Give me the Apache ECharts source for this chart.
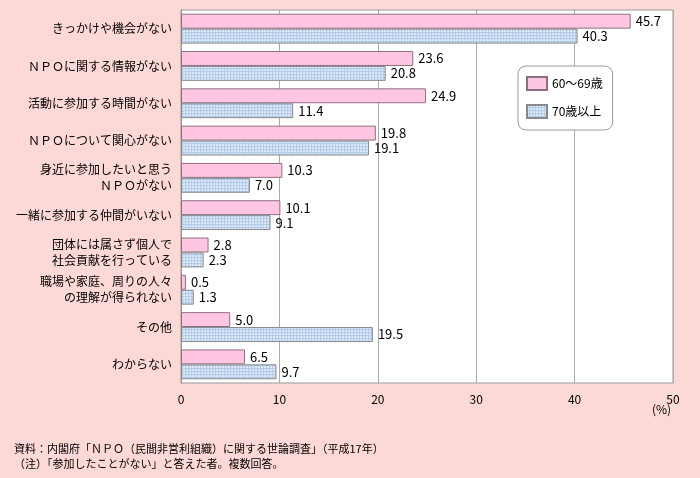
<!DOCTYPE html>
<html><head><meta charset="utf-8">
<script src="https://cdn.jsdelivr.net/npm/echarts@6/dist/echarts.min.js"></script>
<style>html,body{margin:0;padding:0;background:#FCD9D6;}#c{width:700px;height:478px;}</style>
</head><body><div id="c"></div>
<script>
var categories = ["きっかけや機会がない","ＮＰＯに関する情報がない","活動に参加する時間がない","ＮＰＯについて関心がない","身近に参加したいと思う\nＮＰＯがない","一緒に参加する仲間がいない","団体には属さず個人で\n社会貢献を行っている","職場や家庭、周りの人々\nの理解が得られない","その他","わからない"];
var seriesNames = ["60～69歳","70歳以上"];
var values60s = [45.7,23.6,24.9,19.8,10.3,10.1,2.8,0.5,5.0,6.5];
var values70s = [40.3,20.8,11.4,19.1,7.0,9.1,2.3,1.3,19.5,9.7];
var xTicks = [0,10,20,30,40,50];

var pc = document.createElement('canvas');
pc.width = 3; pc.height = 3;
var g = pc.getContext('2d');
g.fillStyle = '#B3CCEA'; g.fillRect(0,0,3,3);
g.fillStyle = '#E2ECF8'; g.fillRect(0,0,2,2);
g.fillStyle = '#CCDDF1'; g.fillRect(0,0,1,1);

var font = '"Noto Sans CJK JP", sans-serif';
var chart = echarts.init(document.getElementById('c'));
chart.setOption({
  backgroundColor: '#FCD9D6',
  animation: false,
  textStyle: {fontFamily: font},
  grid: {left: 181, right: 27, top: 10, bottom: 95, show: true, backgroundColor: '#fff', borderColor: '#999', borderWidth: 1},
  legend: {
    orient: 'vertical', left: 518, top: 66, width: 94,
    padding: [10, 10, 11, 8], itemGap: 13, itemWidth: 20, itemHeight: 13,
    backgroundColor: '#fff', borderColor: '#999', borderWidth: 1, borderRadius: 8,
    textStyle: {fontSize: 12, color: '#000', fontFamily: font},
    data: seriesNames, icon: 'rect'
  },
  xAxis: {
    type: 'value', min: xTicks[0], max: xTicks[xTicks.length-1], interval: 10,
    axisLine: {show: false}, axisTick: {show: false},
    splitLine: {lineStyle: {color: '#aaa', width: 1}},
    axisLabel: {color: '#000', fontSize: 12, margin: 10, fontFamily: font}
  },
  yAxis: {
    type: 'category', data: categories, inverse: true,
    axisLine: {lineStyle: {color: '#999'}},
    axisTick: {inside: true, length: 4, lineStyle: {color: '#999'}},
    axisLabel: {color: '#000', fontSize: 12, margin: 9, lineHeight: 16, fontFamily: font}
  },
  graphic: [
    {type: 'text', left: 652, top: 403, style: {text: '(%)', fontSize: 12, fill: '#000', fontFamily: font}},
    {type: 'text', left: 14, top: 441, style: {text: '資料：内閣府「ＮＰＯ（民間非営利組織）に関する世論調査」（平成17年）\n（注）「参加したことがない」と答えた者。複数回答。', fontSize: 11, lineHeight: 15, fill: '#000', fontFamily: font}}
  ],
  series: [
    {name: seriesNames[0], type: 'bar', data: values60s, barGap: '0%', barCategoryGap: '20%',
     itemStyle: {color: '#FFC6E1', borderColor: '#8C7080', borderWidth: 1},
     label: {show: true, position: 'right', distance: 5, color: '#000', fontSize: 13, fontFamily: font, formatter: function(p){return p.value.toFixed(1);}}},
    {name: seriesNames[1], type: 'bar', data: values70s,
     itemStyle: {color: {image: pc, repeat: 'repeat'}, borderColor: '#888', borderWidth: 1},
     label: {show: true, position: 'right', distance: 5, color: '#000', fontSize: 13, fontFamily: font, formatter: function(p){return p.value.toFixed(1);}}}
  ]
});
</script></body></html>
